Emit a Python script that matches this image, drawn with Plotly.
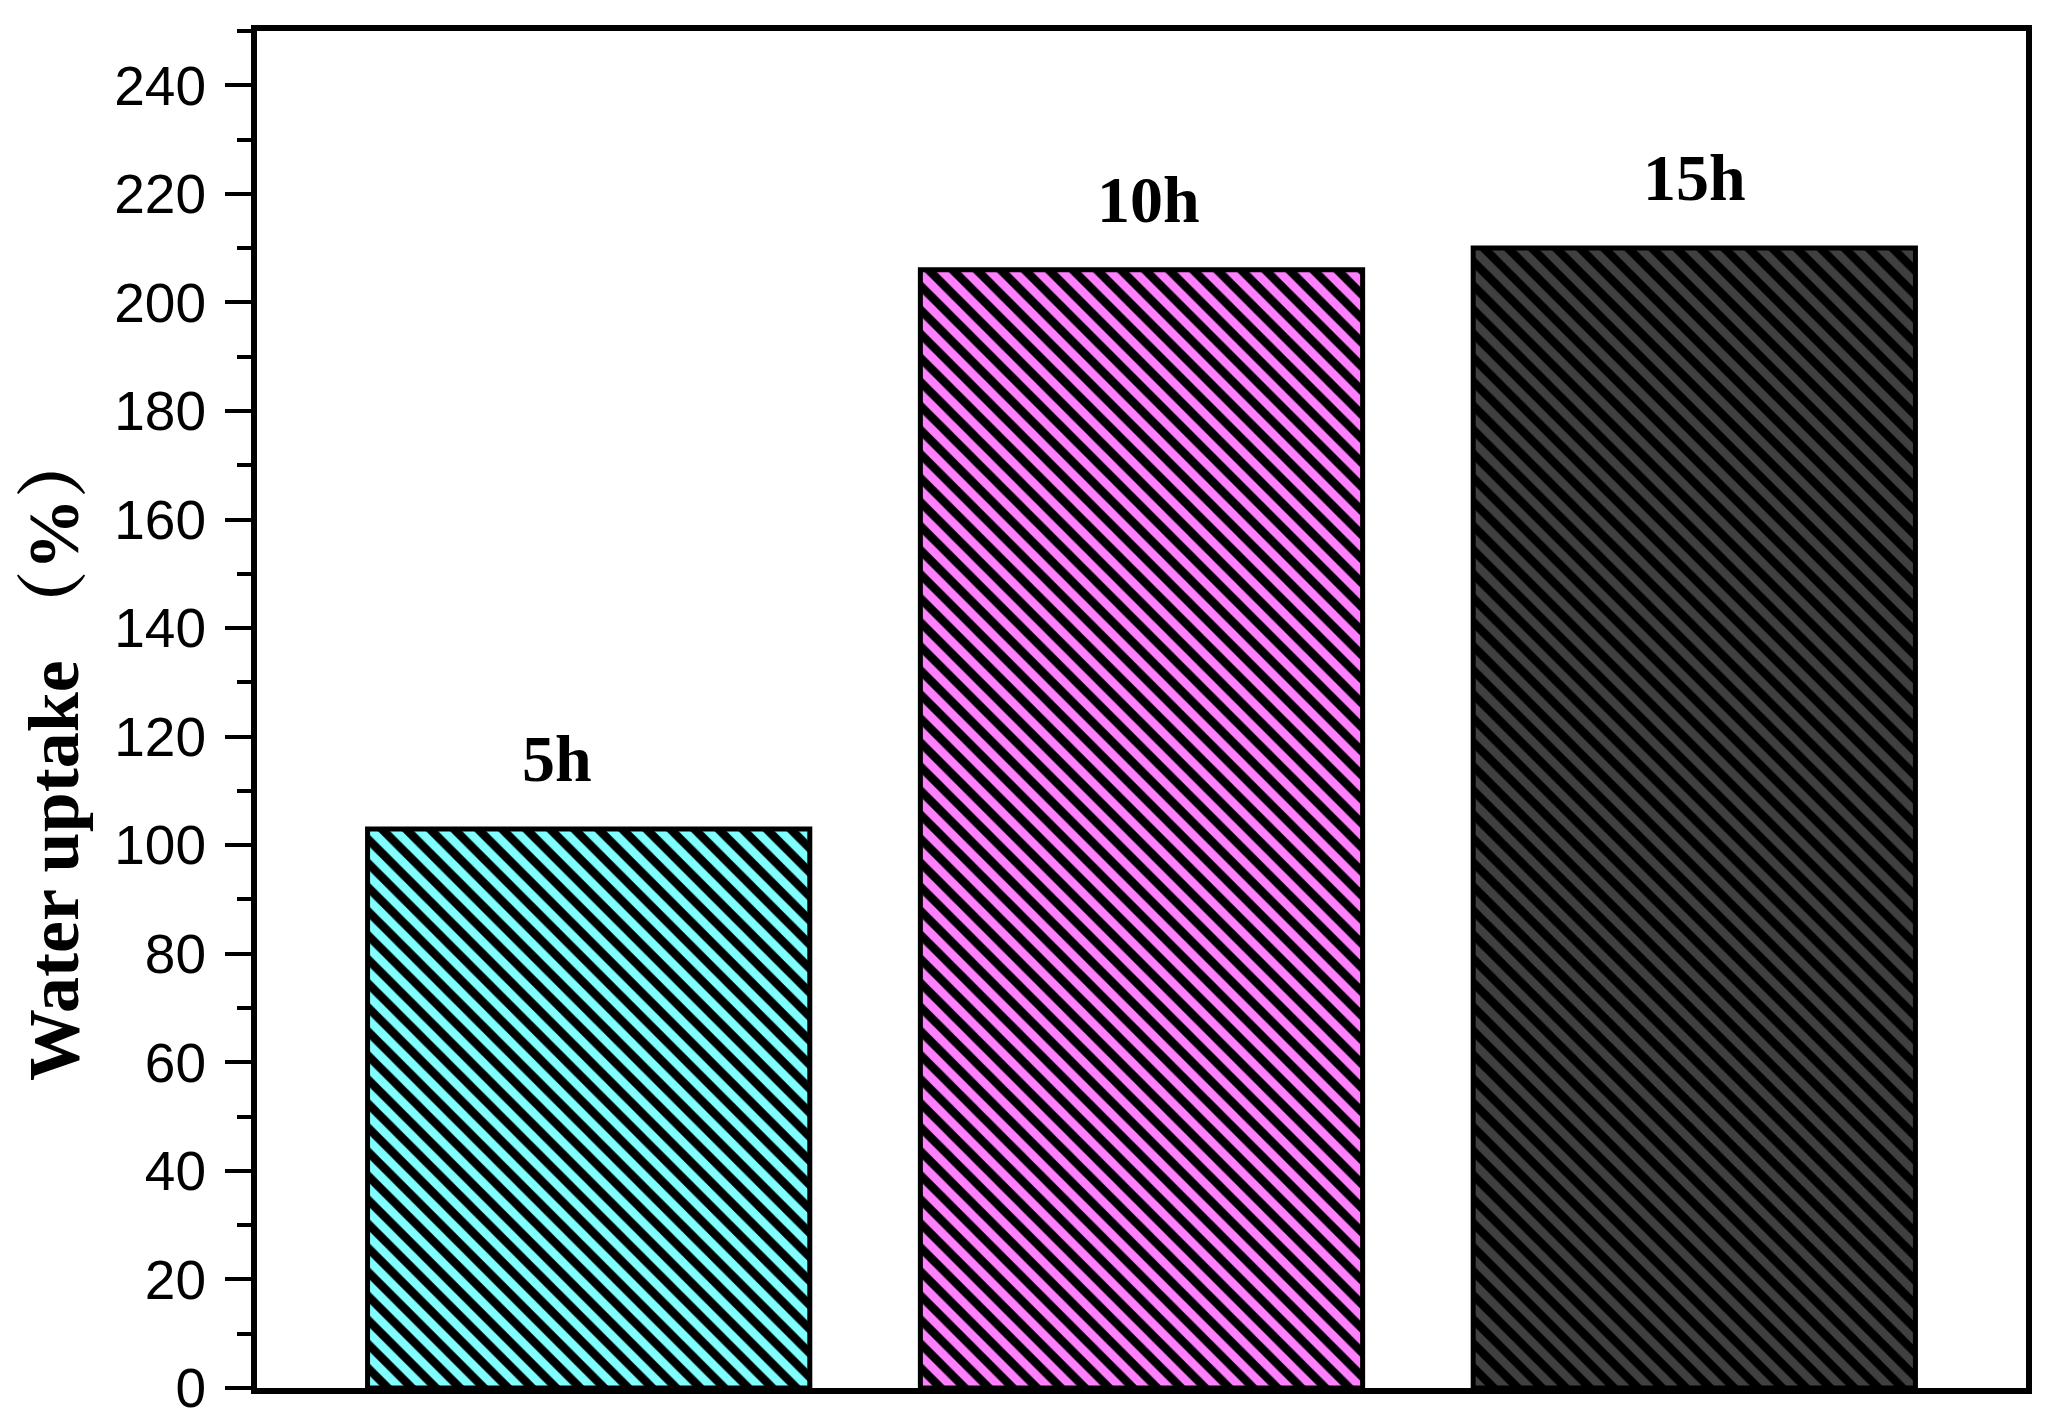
import plotly.graph_objects as go

# ---- data ----
categories = ["5h", "10h", "15h"]
water_uptake = [103, 206, 210]
bar_labels = ["5h", "10h", "15h"]
y_tick_values = [0, 20, 40, 60, 80, 100, 120, 140, 160, 180, 200, 220, 240]
y_title = "Water uptake （%）"

# ---- styling ----
bg_colors = ["#80FFFF", "#FF80FF", "#404040"]
label_xshift = [-32, 7, 0]

W, H = 2047, 1423
m_left, m_right, m_top, m_bottom = 257, 21, 31, 35

fig = go.Figure()
for c, v, col in zip(categories, water_uptake, bg_colors):
    fig.add_trace(go.Bar(
        x=[c],
        y=[v],
        width=0.8,
        marker=dict(
            color=col,
            line=dict(color="black", width=5),
            pattern=dict(shape="\\", size=17, solidity=0.5,
                         fgcolor="black", bgcolor=col, fgopacity=1,
                         fillmode="overlay"),
        ),
        showlegend=False,
        hoverinfo="skip",
    ))

for i, (c, v, t) in enumerate(zip(categories, water_uptake, bar_labels)):
    fig.add_annotation(
        x=c, y=v, text="<b>" + t + "</b>", showarrow=False,
        xanchor="center", yanchor="bottom",
        yshift=32, xshift=label_xshift[i],
        font=dict(family="Liberation Serif, Times New Roman, serif", size=66, color="black"),
    )

plot_w = W - m_left - m_right
plot_h = H - m_top - m_bottom
fig.add_annotation(
    x=(54 - m_left) / plot_w, xref="paper",
    y=(H - m_bottom - 754) / plot_h, yref="paper",
    text="<b>" + y_title + "</b>", textangle=-90, showarrow=False,
    xanchor="center", yanchor="middle",
    font=dict(family="Liberation Serif, Noto Serif CJK SC, Noto Sans CJK SC, serif", size=72, color="black"),
)

fig.update_layout(
    width=W, height=H,
    margin=dict(l=m_left, r=m_right, t=m_top, b=m_bottom, pad=0, autoexpand=False),
    plot_bgcolor="white", paper_bgcolor="white",
    barmode="overlay",
)
fig.update_xaxes(
    range=[-0.6, 2.6], automargin=False,
    showline=True, linewidth=6, linecolor="black", mirror=True,
    showticklabels=False, ticks="", showgrid=False, zeroline=False,
)
fig.update_yaxes(
    range=[0, 250], automargin=False,
    tickmode="array", tickvals=y_tick_values, ticktext=[str(v) for v in y_tick_values],
    showline=True, linewidth=6, linecolor="black", mirror=True,
    ticks="outside", ticklen=26, tickwidth=4, tickcolor="black",
    minor=dict(dtick=10, tick0=0, ticks="outside", ticklen=14, tickwidth=4, tickcolor="black", showgrid=False),
    tickfont=dict(family="Liberation Sans, Arial, sans-serif", size=55, color="black"),
    ticklabelstandoff=8,
    ticklabeloverflow="allow",
    showgrid=False, zeroline=False,
)

fig.write_html("out.html",
               config={"displayModeBar": False},
               post_script="document.body.style.margin='0';document.body.style.overflow='hidden';")
